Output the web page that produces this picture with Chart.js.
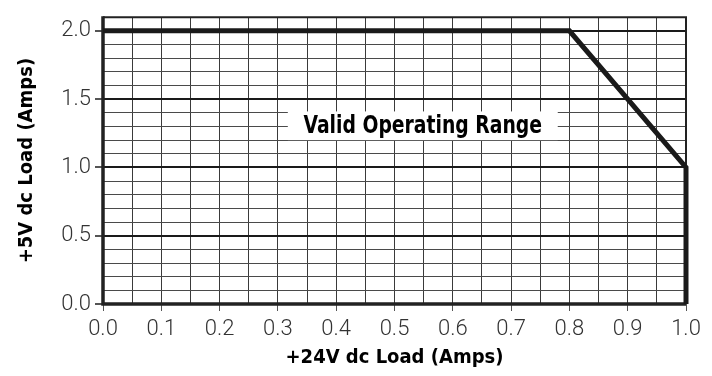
<!DOCTYPE html>
<html>
<head>
<meta charset="utf-8">
<script src="https://cdn.jsdelivr.net/npm/chart.js@4.4.0/dist/chart.umd.min.js"></script>
<style>
  html, body { margin: 0; padding: 0; background: #fff; }
  #wrap { width: 712px; height: 376px; }
</style>
</head>
<body>
<div id="wrap"><canvas id="myChart" width="712" height="376"></canvas></div>
<script>
// derating curve: +24V load vs +5V load
const load24 = [0.0, 0.8, 1.0, 1.0];
const load5 = [2.0, 2.0, 1.0, 0.0];
const xTickLabels = ['0.0', '0.1', '0.2', '0.3', '0.4', '0.5', '0.6', '0.7', '0.8', '0.9', '1.0'];
const yTickLabels = ['0.0', '0.5', '1.0', '1.5', '2.0'];
const areaLabel = 'Valid Operating Range';

const narrowBold = "'DejaVu Sans Condensed', 'Liberation Sans Narrow', sans-serif";
const tickFont = "Roboto, 'DejaVu Sans Condensed', sans-serif";

function isMultiple(v, step) {
  const r = v / step;
  return Math.abs(r - Math.round(r)) < 1e-6;
}

// white label box + frame
const decor = {
  id: 'decor',
  beforeDatasetsDraw(chart) {
    const ctx = chart.ctx;
    const x = chart.scales.x, y = chart.scales.y;
    const a = chart.chartArea;
    ctx.save();
    // frame
    ctx.strokeStyle = '#222';
    ctx.lineWidth = 2;
    ctx.beginPath();
    ctx.moveTo(a.left, a.top);
    ctx.lineTo(a.right, a.top);
    ctx.lineTo(a.right, a.bottom);
    ctx.stroke();
    ctx.lineWidth = 3.5;
    ctx.beginPath();
    ctx.moveTo(a.left, a.top - 1);
    ctx.lineTo(a.left, a.bottom);
    ctx.lineTo(a.right, a.bottom);
    ctx.stroke();
    // label box
    const l = x.getPixelForValue(0.317), r = x.getPixelForValue(0.78);
    const t = y.getPixelForValue(1.41), b = y.getPixelForValue(1.2);
    ctx.fillStyle = '#fff';
    ctx.fillRect(l, t, r - l, b - t);
    ctx.fillStyle = '#000';
    ctx.font = "bold 24px " + narrowBold;
    ctx.textAlign = 'center';
    ctx.textBaseline = 'middle';
    ctx.translate((l + r) / 2, (t + b) / 2 + 1);
    ctx.scale(0.87, 1);
    ctx.fillText(areaLabel, 0, 0);
    ctx.restore();
  }
};

const ctx = document.getElementById('myChart');
new Chart(ctx, {
  type: 'line',
  data: {
    datasets: [{
      data: load24.map((v, i) => ({ x: v, y: load5[i] })),
      borderColor: '#1a1a1a',
      borderWidth: 5,
      pointRadius: 0,
      tension: 0,
      fill: false,
      clip: false
    }]
  },
  options: {
    responsive: false,
    animation: false,
    layout: { autoPadding: false, padding: { top: 8, right: 26, left: 0, bottom: 0 } },
    plugins: { legend: { display: false }, tooltip: { enabled: false } },
    scales: {
      x: {
        type: 'linear',
        min: 0, max: 1,
        afterFit(s) { s.height = 72; },
        border: { display: false },
        grid: {
          color: '#3a3a3a',
          lineWidth: 1,
          tickLength: 7,
          tickColor: c => isMultiple(c.tick.value, 0.1) ? '#555' : 'rgba(0,0,0,0)'
        },
        ticks: {
          stepSize: 0.05,
          autoSkip: false,
          maxRotation: 0,
          padding: 5,
          color: '#333',
          font: { family: tickFont, size: 22, weight: '300' },
          callback: v => isMultiple(v, 0.1) ? xTickLabels[Math.round(v * 10)] : ''
        },
        title: {
          display: true,
          text: '+24V dc Load (Amps)',
          color: '#000',
          font: { family: narrowBold, size: 20, weight: 'bold' },
          padding: { top: 0, bottom: 6 }
        }
      },
      y: {
        type: 'linear',
        min: 0, max: 2.1,
        afterFit(s) { s.width = 103; },
        border: { display: false },
        grid: {
          color: c => isMultiple(c.tick.value, 0.5) ? '#1a1a1a' : '#4a4a4a',
          lineWidth: c => isMultiple(c.tick.value, 0.5) ? 2 : 1,
          tickLength: 8,
          tickColor: c => isMultiple(c.tick.value, 0.5) ? '#555' : 'rgba(0,0,0,0)'
        },
        ticks: {
          stepSize: 0.1,
          autoSkip: false,
          padding: 4,
          color: '#333',
          font: { family: tickFont, size: 22, weight: '300' },
          callback: v => isMultiple(v, 0.5) ? yTickLabels[Math.round(v * 2)] : ''
        },
        title: {
          display: true,
          text: '+5V dc Load (Amps)',
          color: '#000',
          font: { family: narrowBold, size: 20, weight: 'bold' },
          padding: { top: 15, bottom: 0 }
        }
      }
    }
  },
  plugins: [decor]
});
</script>
</body>
</html>
